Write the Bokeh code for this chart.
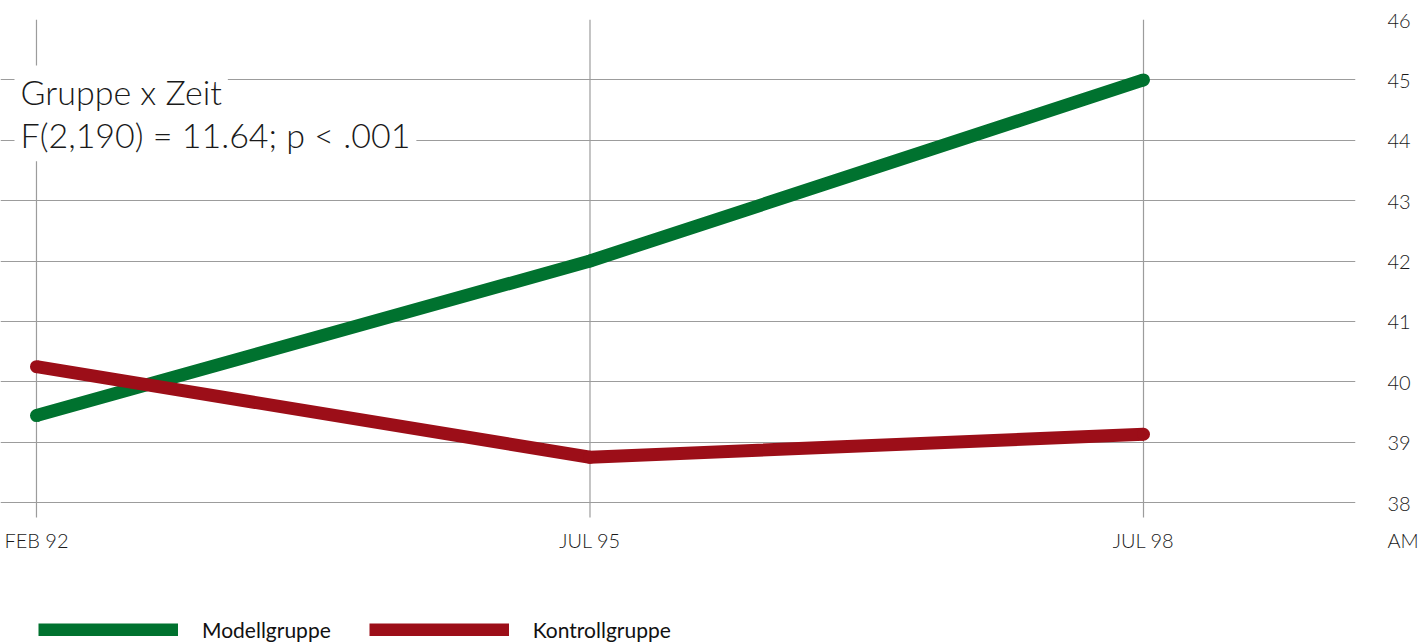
from bokeh.plotting import figure
from bokeh.models import (Range1d, FixedTicker, Legend, LegendItem, Label)
from bokeh.core.properties import value
from bokeh.embed import file_html
from bokeh.resources import INLINE

# ---- data ----
time_labels = ["FEB 92", "JUL 95", "JUL 98"]
x_pos = [0, 1, 2]
modell = [39.44, 42.0, 45.0]
kontroll = [40.25, 38.75, 39.13]
y_ticks = [38, 39, 40, 41, 42, 43, 44, 45, 46]
series_names = ["Modellgruppe", "Kontrollgruppe"]
annot_lines = ["Gruppe x Zeit", "F(2,190) = 11.64; p < .001"]
axis_unit = "AM"

GREEN = "#00722f"
RED = "#9c0e18"
GRID = "#9c9c9c"
LIGHT = "Lato Light, Lato"
REG = "Lato"
PX = 1 / 60.375                 # one pixel in y data units
RULE_EXT = 15 * PX              # rules reach 15px below the lowest gridline
LABEL_ROW = min(y_ticks) - 37 * PX   # row of the time labels / unit label

p = figure(frame_width=1355, frame_height=623,
           x_range=Range1d(-0.065, 2.383),
           y_range=Range1d(46 - 623 * PX, 46),
           x_axis_location=None, y_axis_location="right",
           output_backend="svg", toolbar_location=None,
           min_border_left=0, min_border_top=19,
           min_border_bottom=0, min_border_right=0)
p.outline_line_color = None
p.background_fill_color = "white"
p.border_fill_color = "white"
p.xgrid.visible = False

# vertical rules at the time points
p.segment(x0=x_pos, y0=[max(y_ticks)] * len(x_pos), x1=x_pos,
          y1=[min(y_ticks) - RULE_EXT] * len(x_pos), line_color=GRID,
          line_width=1.2, level="underlay")

# time labels
p.text(x=x_pos, y=[LABEL_ROW] * len(x_pos), text=time_labels,
       text_align="center", text_baseline="middle",
       text_font=value(LIGHT), text_font_size="20px", text_color="#1a1a1a")

# value axis on the right (unit label as last slot)
ya = p.yaxis[0]
ya.ticker = FixedTicker(ticks=y_ticks + [LABEL_ROW])
ya.major_label_overrides = {LABEL_ROW: axis_unit}
ya.axis_line_color = None
ya.major_tick_line_color = None
ya.minor_tick_line_color = None
ya.major_tick_in = 0
ya.major_tick_out = 0
ya.major_label_standoff = 32
ya.major_label_text_font = LIGHT
ya.major_label_text_font_size = "20px"
ya.major_label_text_color = "#1a1a1a"

p.ygrid.ticker = FixedTicker(ticks=y_ticks)
p.ygrid.grid_line_color = GRID
p.ygrid.grid_line_width = 1.2

# lines
g = p.line(x_pos, modell, line_color=GREEN, line_width=13, line_join="round")
r = p.line(x_pos, kontroll, line_color=RED, line_width=13, line_join="round")
p.scatter(x_pos, modell, size=13, color=GREEN, line_color=None)
p.scatter(x_pos, kontroll, size=13, color=RED, line_color=None)

# annotation (second line first so the first line's box sits on top)
lab2 = Label(x=-0.0397, y=44.09, text=annot_lines[1], text_font=LIGHT,
             text_font_size="34px", text_color="#1a1a1a",
             text_baseline="alphabetic", background_fill_color="white",
             padding=6)
lab1 = Label(x=-0.0397, y=44.80, text=annot_lines[0], text_font=LIGHT,
             text_font_size="34px", text_color="#1a1a1a",
             text_baseline="alphabetic", background_fill_color="white",
             padding=6)
p.add_layout(lab2)
p.add_layout(lab1)

legend = Legend(items=[LegendItem(label=series_names[0], renderers=[g]),
                       LegendItem(label=series_names[1], renderers=[r])],
                location=(38, 0), orientation="horizontal",
                glyph_width=140, glyph_height=13, label_standoff=24,
                spacing=38, padding=1, margin=0, border_line_color=None,
                background_fill_alpha=0, label_text_font=REG,
                label_text_font_size="21px", label_height=20,
                label_text_color="#111111")
p.add_layout(legend)

open("out.html", "w").write(file_html(p, INLINE))
